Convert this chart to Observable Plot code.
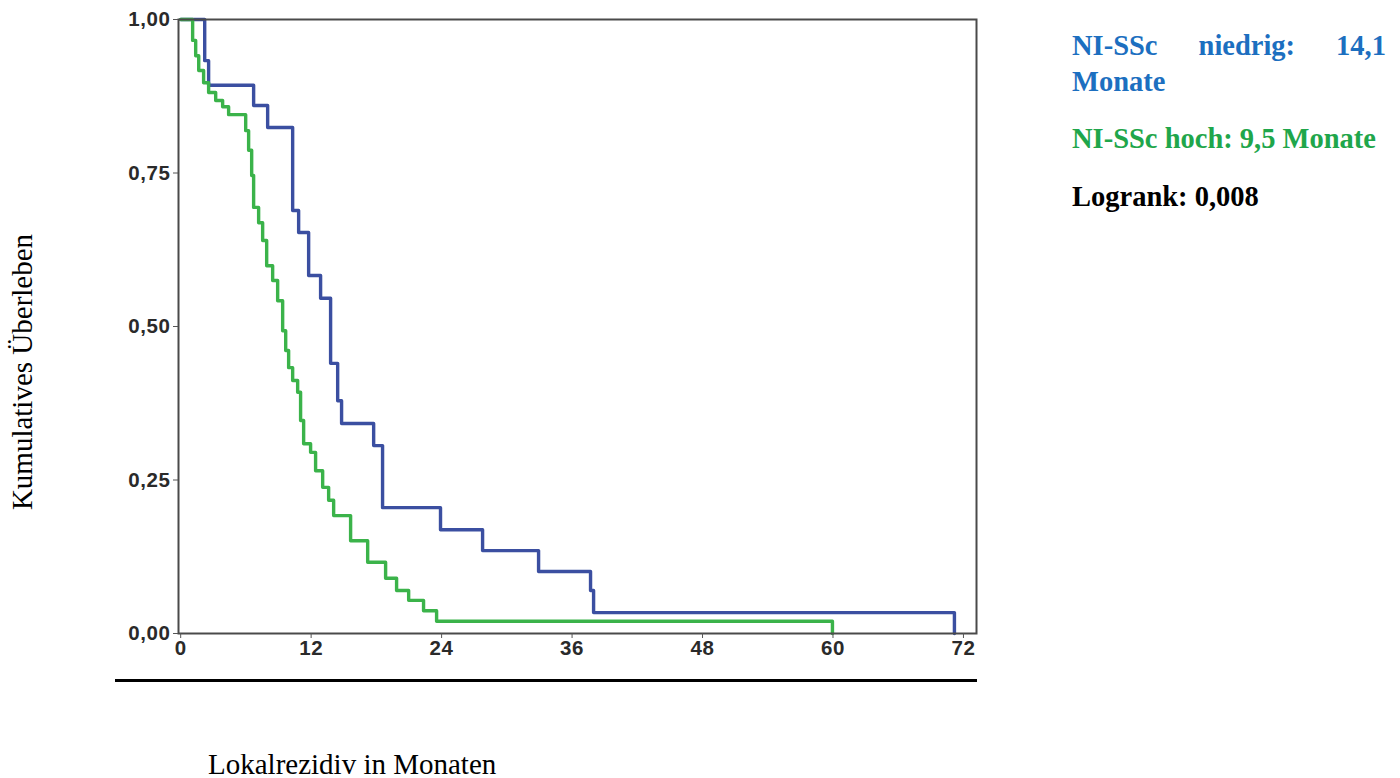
<!DOCTYPE html>
<html>
<head>
<meta charset="utf-8">
<script src="https://cdn.jsdelivr.net/npm/d3@7"></script>
<script src="https://cdn.jsdelivr.net/npm/@observablehq/plot@0.6"></script>
<style>
  body { margin:0; width:1400px; height:778px; position:relative; overflow:hidden; background:#fff; }
  #chart { position:absolute; left:0; top:0; }
  #rule { position:absolute; left:115px; top:679px; width:862px; height:3px; background:#000; }
  .serif { font-family:"Liberation Serif","Times New Roman",serif; }
  #ylab { position:absolute; left:22px; top:372px; transform:translate(-50%,-50%) rotate(-90deg); font-size:29px; line-height:30px; white-space:nowrap; color:#000; }
  #xlab { position:absolute; left:208px; top:751px; font-size:29px; line-height:26px; white-space:nowrap; color:#000; }
  #legend { position:absolute; left:1072px; top:28px; width:314px; font-size:28.5px; font-weight:bold; line-height:36px; }
  #legend p { margin:0; text-align:justify; }
  #chart svg g[aria-label="y-axis tick label"] text,
  #chart svg g[aria-label="x-axis tick label"] text { letter-spacing:0.6px; }
</style>
</head>
<body>
<div id="chart"></div>
<div id="rule"></div>
<div id="ylab" class="serif">Kumulatives Überleben</div>
<div id="xlab" class="serif">Lokalrezidiv in Monaten</div>
<div id="legend" class="serif">
  <p id="l1" style="color:#1c6fc0">NI-SSc niedrig: 14,1 Monate</p>
  <p id="l2" style="color:#1fa64b;margin-top:21px">NI-SSc hoch: 9,5 Monate</p>
  <p id="l3" style="color:#000;margin-top:22px">Logrank: 0,008</p>
</div>
<script>
// Kaplan-Meier curves (time in months, survival after each step)
const seriesNames = ["NI-SSc niedrig", "NI-SSc hoch"];
const blueTimes = [0, 2.21, 2.57, 6.71, 8.0, 10.3, 10.85, 11.77, 12.87, 13.79, 14.44, 14.8, 17.75, 18.57, 23.9, 27.77, 32.92, 37.7, 37.98, 71.17];
const blueSurv  = [1.0, 0.933, 0.893, 0.860, 0.824, 0.689, 0.653, 0.583, 0.546, 0.440, 0.379, 0.342, 0.306, 0.205, 0.169, 0.135, 0.101, 0.070, 0.034, 0.0];
const greenTimes = [0, 1.10, 1.38, 1.66, 2.11, 2.57, 3.22, 3.86, 4.41, 5.98, 6.25, 6.53, 6.71, 7.17, 7.54, 7.91, 8.46, 8.92, 9.38, 9.66, 9.93, 10.3, 10.76, 11.03, 11.31, 11.95, 12.41, 13.06, 13.61, 14.07, 15.63, 17.2, 18.85, 19.86, 20.97, 22.34, 23.54, 59.95];
const greenSurv  = [1.0, 0.966, 0.941, 0.917, 0.897, 0.881, 0.868, 0.858, 0.845, 0.819, 0.787, 0.746, 0.694, 0.669, 0.640, 0.599, 0.575, 0.542, 0.493, 0.461, 0.433, 0.412, 0.393, 0.347, 0.309, 0.295, 0.265, 0.238, 0.217, 0.192, 0.151, 0.116, 0.090, 0.070, 0.054, 0.037, 0.020, 0.0];
const seriesColors = ["#3b4fa1", "#3bb34a"];
const xTicks = [0, 12, 24, 36, 48, 60, 72];
const xTickLabels = ["0", "12", "24", "36", "48", "60", "72"];
const yTicks = [0, 0.25, 0.5, 0.75, 1];
const yTickLabels = ["0,00", "0,25", "0,50", "0,75", "1,00"];

const data = [
  ...blueTimes.map((t, i) => ({t, s: blueSurv[i], g: seriesNames[0]})),
  ...greenTimes.map((t, i) => ({t, s: greenSurv[i], g: seriesNames[1]}))
];

const chart = Plot.plot({
  width: 1000,
  height: 700,
  marginLeft: 178,
  marginRight: 24,
  marginTop: 19,
  marginBottom: 67,
  style: {fontFamily: "'Liberation Sans', Arial, sans-serif", background: "transparent"},
  x: {domain: [-0.2, 73.2]},
  y: {domain: [0, 1]},
  color: {domain: seriesNames, range: seriesColors},
  marks: [
    Plot.line(data, {x: "t", y: "s", z: "g", stroke: "g", curve: "step-after", strokeWidth: 3.4}),
    Plot.frame({stroke: "#4a4a4a", strokeWidth: 2}),
    Plot.axisX({ticks: xTicks, tickFormat: d => xTickLabels[xTicks.indexOf(d)], tickSize: 5, tickPadding: 2, fontSize: 20.5, fontWeight: "bold", fill: "#2a2a2a", stroke: "#555", label: null}),
    Plot.axisY({ticks: yTicks, tickFormat: d => yTickLabels[yTicks.indexOf(d)], tickSize: 5, tickPadding: 3, fontSize: 20.5, fontWeight: "bold", fill: "#2a2a2a", stroke: "#555", label: null})
  ]
});
document.getElementById("chart").appendChild(chart);
</script>
</body>
</html>
